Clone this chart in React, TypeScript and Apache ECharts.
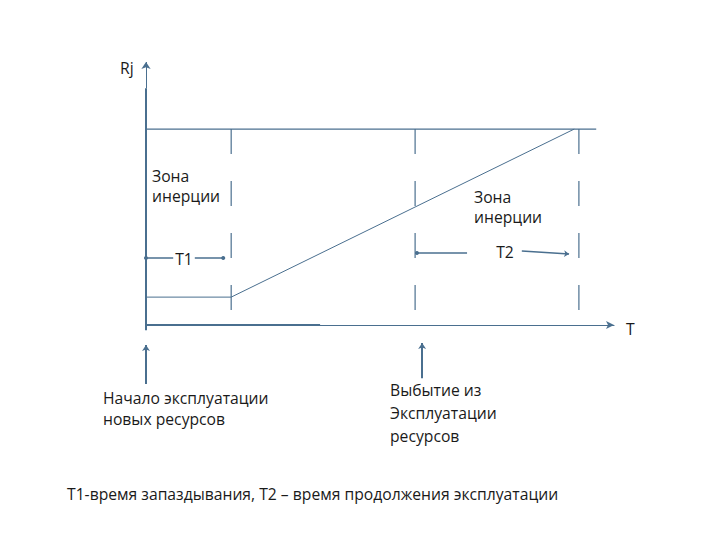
import React, { useEffect, useRef } from "react";
import * as echarts from "echarts";

// Time positions (abstract units along T axis)
const verticalMarkersX = [18.2, 57.5, 92.5];
const levelLow = 10.6;
const levelMax = 74.5;

// Ramp line Rj(T)
const rampX = [0, 18.2, 91.5];
const rampY = [levelLow, levelLow, levelMax];

// Upper horizontal level line
const topLineX = [0, 96.2];
const topLineY = [levelMax, levelMax];

// Bold segment at the start of T axis
const baseSegX = [0, 37.2];
const baseSegY = [0, 0];

// T1 interval arrow
const t1X = [0, 16.5];
const t1Y = [25.5, 25.5];

// T2 interval arrow (two halves)
const t2LeftX = [57.9, 68.6];
const t2LeftY = [27.4, 27.4];
const t2RightX = [80.3, 90.4];
const t2RightY = [28.1, 27.0];

// Event arrows below the axis
const eventX = [0, 59.0];
const eventFromY = [-22.4, -20.2];
const eventToY = [-7.6, -6.8];

// Y axis (thick part and thin arrow part)
const yAxisBreaks = [-2, 90, 100];

const LINE = "#4a6f8f";
const TEXT = "#1a1a1a";
const FONT = "15.7px 'Open Sans'";

const zip = (xs: number[], ys: number[]) => xs.map((x, i) => [x, ys[i]]);

export default function App() {
  const ref = useRef<HTMLDivElement>(null);
  useEffect(() => {
    if (!ref.current) return;
    const chart = echarts.init(ref.current, undefined, { renderer: "svg" });

    const seg = (
      a: number[],
      b: number[],
      s0: string,
      s1: string,
      width = 1.2,
      size = 6
    ) => [
      { coord: a, symbol: s0, symbolSize: size, lineStyle: { type: "solid", width, color: LINE } },
      { coord: b, symbol: s1, symbolSize: size },
    ];

    const t1 = zip(t1X, t1Y);
    const t2l = zip(t2LeftX, t2LeftY);
    const t2r = zip(t2RightX, t2RightY);

    const markData: any[] = [
      seg([0, yAxisBreaks[0]], [0, yAxisBreaks[1]], "none", "none", 2),
      seg([0, yAxisBreaks[1]], [0, yAxisBreaks[2]], "none", "arrow", 1, 7),
      seg(t1[0], t1[1], "circle", "circle", 1.5, 4),
      seg(t2l[0], t2l[1], "circle", "none", 1.5, 4),
      seg(t2r[0], t2r[1], "none", "arrow", 1.5, 5),
      ...eventX.map((x, i) =>
        seg([x, eventFromY[i]], [x, eventToY[i]], "none", "arrow", 2, 6)
      ),
    ];

    const textEl = (
      text: string,
      x: number,
      y: number,
      align = "left",
      bg?: string
    ) => ({
      type: "text",
      x,
      y,
      z: 100,
      style: {
        text,
        font: FONT,
        fill: TEXT,
        textAlign: align,
        textVerticalAlign: "middle",
        backgroundColor: bg,
        padding: bg ? [0, 2] : 0,
      },
    });

    const option: any = {
      animation: false,
      backgroundColor: "#ffffff",
      grid: { left: 146, right: 106, top: 62, bottom: 149.25 },
      xAxis: {
        type: "value",
        min: 0,
        max: 100,
        axisLine: {
          show: true,
          onZero: true,
          symbol: ["none", "arrow"],
          symbolSize: [6, 8],
          lineStyle: { color: LINE, width: 1.2 },
        },
        axisTick: { show: false },
        axisLabel: { show: false },
        splitLine: { show: false },
      },
      yAxis: {
        type: "value",
        min: -25,
        max: 100,
        axisLine: { show: false },
        axisTick: { show: false },
        axisLabel: { show: false },
        splitLine: { show: false },
      },
      series: [
        {
          type: "line",
          data: zip(rampX, rampY),
          symbol: "none",
          silent: true,
          lineStyle: { color: LINE, width: 1 },
          markLine: {
            silent: true,
            animation: false,
            label: { show: false },
            emphasis: { disabled: true },
            data: markData,
          },
        },
        {
          type: "line",
          data: zip(topLineX, topLineY),
          symbol: "none",
          silent: true,
          lineStyle: { color: LINE, width: 1.2 },
        },
        {
          type: "line",
          data: zip(baseSegX, baseSegY),
          symbol: "none",
          silent: true,
          lineStyle: { color: LINE, width: 2.2 },
        },
        ...verticalMarkersX.map((x) => ({
          type: "line",
          data: [
            [x, levelMax],
            [x, 0],
          ],
          symbol: "none",
          silent: true,
          lineStyle: { color: LINE, width: 1.2, type: [25, 27] },
        })),
      ],
      graphic: [
        textEl("Rj", 120, 68),
        textEl("Зона", 152, 176),
        textEl("инерции", 152, 196),
        textEl("Зона", 474, 197),
        textEl("инерции", 474, 217),
        textEl("T1", 184, 259, "center", "#ffffff"),
        textEl("T2", 505, 252, "center"),
        textEl("T", 626, 329),
        textEl("Начало эксплуатации", 103, 398),
        textEl("новых ресурсов", 103, 419),
        textEl("Выбытие из", 390, 390),
        textEl("Эксплуатации", 390, 413),
        textEl("ресурсов", 390, 436),
        textEl(
          "T1-время запаздывания, T2 – время продолжения эксплуатации",
          67,
          494
        ),
      ],
    };
    chart.setOption(option);
    return () => chart.dispose();
  }, []);
  return (
    <div
      ref={ref}
      style={{ position: "fixed", left: 0, top: 0, width: 720, height: 540, background: "#fff" }}
    />
  );
}
